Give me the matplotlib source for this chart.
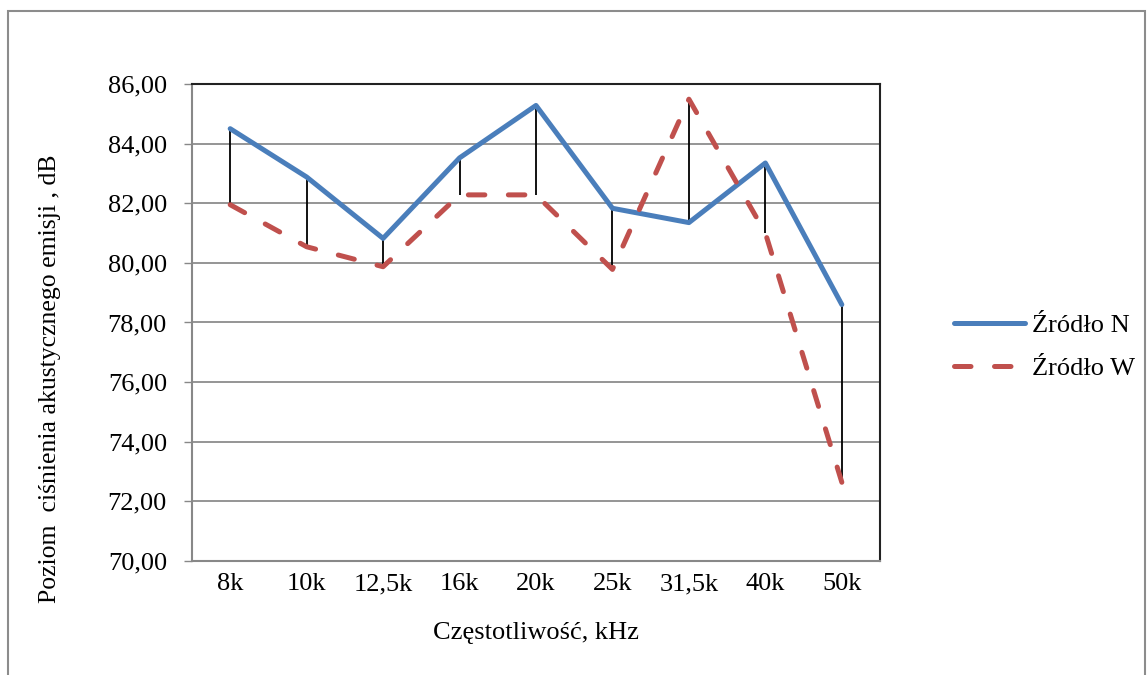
import matplotlib
matplotlib.use("Agg")
import matplotlib.pyplot as plt
from matplotlib.patches import Rectangle

# Sound pressure levels of acoustic emission per frequency band
categories = ["8k", "10k", "12,5k", "16k", "20k", "25k", "31,5k", "40k", "50k"]
source_n = [84.50, 82.88, 80.82, 83.52, 85.28, 81.83, 81.35, 83.35, 78.60]
source_w = [81.95, 80.54, 79.87, 82.28, 82.28, 79.78, 85.49, 81.00, 72.64]
y_ticks = [70, 72, 74, 76, 78, 80, 82, 84, 86]

plt.rcParams["font.family"] = ["Liberation Serif", "DejaVu Serif"]

fig = plt.figure(figsize=(11.48, 6.75), dpi=100)
ax = fig.add_axes([0.1672, 0.1689, 0.5994, 0.7067])

x = list(range(len(categories)))

# high-low lines between the two series
ax.vlines(x, [min(a, b) for a, b in zip(source_n, source_w)],
          [max(a, b) for a, b in zip(source_n, source_w)],
          colors="black", linewidth=1.3, zorder=2)

ax.plot(x, source_n, color="#4A7EBB", linewidth=3.6, solid_capstyle="round",
        solid_joinstyle="round", label="Źródło N", zorder=3)
ax.plot(x, source_w, color="#C0504D", linewidth=3.6, linestyle=(0, (3.3, 4.7)),
        dash_capstyle="round", dash_joinstyle="round", label="Źródło W", zorder=3)

ax.set_xlim(-0.5, len(categories) - 0.5)
ax.set_ylim(70, 86)
ax.set_yticks(y_ticks)
ax.set_yticklabels([f"{v:.2f}".replace(".", ",") for v in y_ticks])
ax.set_xticks(x)
ax.set_xticklabels(categories)
ax.tick_params(axis="y", length=6, width=1, color="#888888", pad=12, labelsize=19)
ax.tick_params(axis="x", length=0, pad=9, labelsize=19)

ax.grid(axis="y", color="#8C8C8C", linewidth=1.3)
ax.set_axisbelow(True)

for side in ("left", "bottom"):
    ax.spines[side].set_color("#888888")
    ax.spines[side].set_linewidth(1.5)
for side in ("top", "right"):
    ax.spines[side].set_color("#222222")
    ax.spines[side].set_linewidth(1.5)

ax.set_xlabel("Częstotliwość, kHz", fontsize=19, labelpad=19)
ax.set_ylabel("Poziom  ciśnienia akustycznego emisji , dB", fontsize=18.5)
ax.yaxis.set_label_coords(-0.19, 0.382)

leg = ax.legend(loc="center left", bbox_to_anchor=(1.073, 0.449), frameon=False,
                fontsize=19, handlelength=2.7, handletextpad=0.25, labelspacing=0.74)

# chart-area border
fig.patches.append(Rectangle((8 / 1148, -0.05), 1137 / 1148, 1.05 - 11 / 675,
                             transform=fig.transFigure, fill=False,
                             edgecolor="#8C8C8C", linewidth=1.5))

fig.savefig("out.png", dpi=100)
